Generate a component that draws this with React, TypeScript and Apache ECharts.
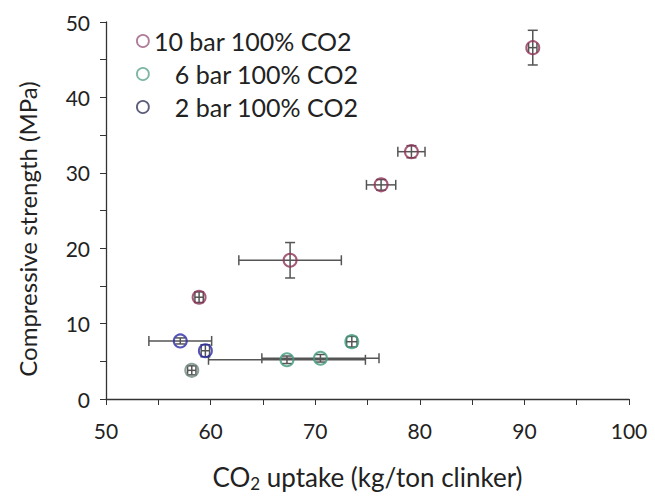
import React, { useEffect, useRef } from "react";
import * as echarts from "echarts";

const seriesNames = ["10 bar 100% CO2", "6 bar 100% CO2", "2 bar 100% CO2"];
const legendLabels = ["10 bar 100% CO2", "\u2007 6 bar 100% CO2", "\u2007 2 bar 100% CO2"];
const seriesColors = ["#8e3358", "#3f9a7e", "#2b2ba6"];
const legendColors = ["#9a5a80", "#5aa58a", "#33335a"];

const bar10X = [58.9, 67.6, 76.3, 79.2, 90.8];
const bar10Y = [13.5, 18.4, 28.4, 32.8, 46.6];
const bar10Ex = [0.4, 4.9, 1.4, 1.3, 0.4];
const bar10Ey = [0.7, 2.35, 0.7, 0.8, 2.3];

const bar6X = [58.2, 67.3, 70.5, 73.5];
const bar6Y = [3.8, 5.2, 5.4, 7.6];
const bar6Ex = [0.4, 7.5, 5.6, 0.5];
const bar6Ey = [0.6, 0.5, 0.5, 0.7];

const bar2X = [57.1, 59.5];
const bar2Y = [7.7, 6.4];
const bar2Ex = [3.0, 0.4];
const bar2Ey = [0.4, 0.8];

const xTitle = "CO{s|2} uptake (kg/ton clinker)";
const yTitle = "Compressive strength (MPa)";

const FONT = "Lato";

export default function App() {
  const ref = useRef<HTMLDivElement>(null);
  useEffect(() => {
    if (!ref.current) return;
    const chart = echarts.init(ref.current, null, { renderer: "svg" });
    const groups = [
      { x: bar10X, y: bar10Y, ex: bar10Ex, ey: bar10Ey },
      { x: bar6X, y: bar6Y, ex: bar6Ex, ey: bar6Ey },
      { x: bar2X, y: bar2Y, ex: bar2Ex, ey: bar2Ey },
    ];
    const errData: number[][] = [];
    groups.forEach((g) => g.x.forEach((xv, i) => errData.push([xv, g.y[i], g.ex[i], g.ey[i]])));

    const scatterSeries = groups.map((g, si) => ({
      name: seriesNames[si],
      type: "scatter",
      symbol: "circle",
      symbolSize: 13,
      z: 3,
      itemStyle: { color: "rgba(255,255,255,0)", borderColor: seriesColors[si], borderWidth: 2 },
      data: g.x.map((xv, i) => {
        const d: any = { value: [xv, g.y[i]] };
        if (si === 1 && i === 0) d.itemStyle = { borderColor: "#6f8a7e" };
        return d;
      }),
    }));

    const cap = 5;
    chart.setOption({
      animation: false,
      backgroundColor: "#ffffff",
      grid: { left: 106, right: 26, top: 22, bottom: 92, containLabel: false },
      graphic: [
        {
          type: "text",
          x: 27,
          y: 229,
          rotation: Math.PI / 2,
          style: {
            text: yTitle,
            fontFamily: FONT,
            fontSize: 24,
            fill: "#222",
            align: "center",
            verticalAlign: "middle",
          },
        },
      ],
      legend: {
        orient: "vertical",
        left: 131,
        top: 22,
        itemWidth: 12,
        itemHeight: 12,
        itemGap: 5,
        icon: "circle",
        textStyle: { fontFamily: FONT, fontSize: 25, color: "#222", lineHeight: 28 },
        formatter: (name: string) => legendLabels[seriesNames.indexOf(name)],
        data: seriesNames.map((n, i) => ({
          name: n,
          itemStyle: { color: "rgba(255,255,255,0)", borderColor: legendColors[i], borderWidth: 1.8 },
        })),
      },
      xAxis: {
        type: "value",
        min: 50,
        max: 100,
        interval: 10,
        name: xTitle,
        nameLocation: "middle",
        nameGap: 62,
        nameTextStyle: {
          fontFamily: FONT,
          fontSize: 26,
          color: "#222",
          rich: { s: { fontFamily: FONT, fontSize: 17, color: "#222", verticalAlign: "bottom", padding: [14, 0, 0, 0] } },
        },
        axisLine: { lineStyle: { color: "#333", width: 1.3 } },
        axisTick: { length: 6, lineStyle: { color: "#333" } },
        minorTick: { show: true, splitNumber: 2, length: 6, lineStyle: { color: "#333" } },
        splitLine: { show: false },
        axisLabel: { fontFamily: FONT, fontSize: 21, color: "#222", margin: 21 },
      },
      yAxis: {
        type: "value",
        min: 0,
        max: 50,
        interval: 10,
        axisLine: { show: true, lineStyle: { color: "#333", width: 1.3 } },
        axisTick: { show: true, length: 6, lineStyle: { color: "#333" } },
        minorTick: { show: true, splitNumber: 2, length: 6, lineStyle: { color: "#333" } },
        splitLine: { show: false },
        axisLabel: { fontFamily: FONT, fontSize: 21, color: "#222", margin: 16 },
      },
      series: [
        {
          type: "custom",
          name: "errors",
          z: 2,
          data: errData,
          renderItem: (params: any, api: any) => {
            const x = api.value(0), y = api.value(1), ex = api.value(2), ey = api.value(3);
            const l = api.coord([x - ex, y]);
            const r = api.coord([x + ex, y]);
            const t = api.coord([x, y + ey]);
            const b = api.coord([x, y - ey]);
            const st = { stroke: "#555", lineWidth: 1.5 };
            return {
              type: "group",
              children: [
                { type: "line", shape: { x1: l[0], y1: l[1], x2: r[0], y2: r[1] }, style: st },
                { type: "line", shape: { x1: l[0], y1: l[1] - cap, x2: l[0], y2: l[1] + cap }, style: st },
                { type: "line", shape: { x1: r[0], y1: r[1] - cap, x2: r[0], y2: r[1] + cap }, style: st },
                { type: "line", shape: { x1: t[0], y1: t[1], x2: b[0], y2: b[1] }, style: st },
                { type: "line", shape: { x1: t[0] - cap, y1: t[1], x2: t[0] + cap, y2: t[1] }, style: st },
                { type: "line", shape: { x1: b[0] - cap, y1: b[1], x2: b[0] + cap, y2: b[1] }, style: st },
              ],
            };
          },
        },
        ...scatterSeries,
      ],
    });
    return () => chart.dispose();
  }, []);
  return <div ref={ref} style={{ width: 655, height: 497, position: "fixed", left: 0, top: 0 }} />;
}
